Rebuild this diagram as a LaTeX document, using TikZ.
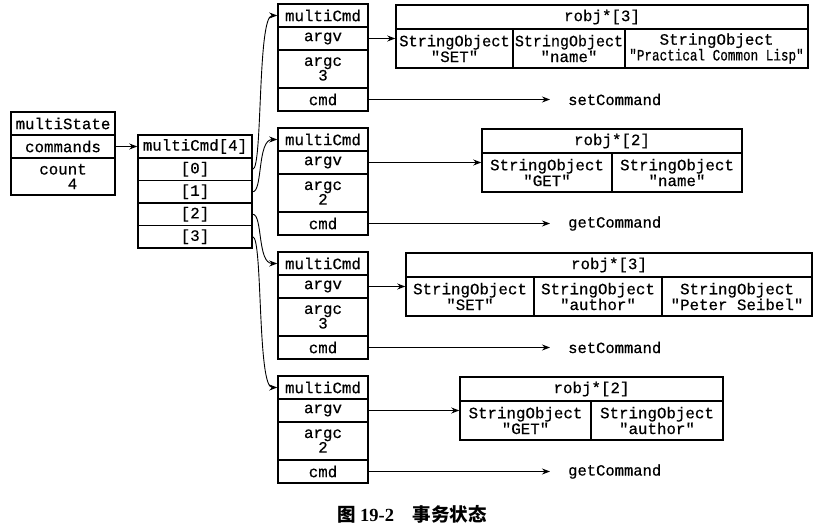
\documentclass[tikz,border=0pt]{standalone}
\usepackage{fontspec}
\newfontfamily\boxfont{Liberation Mono}[FakeBold=0.6]
\newfontfamily\cjk{Noto Sans CJK SC}
\newfontfamily\capnum{Liberation Serif}
\usepackage{graphicx}
\usepackage{tikz}
\usetikzlibrary{arrows.meta}

\tikzset{
  cell/.style={draw,line width=1.5pt,inner sep=0pt,align=center,
    font=\boxfont\fontsize{15.8}{14.6}\selectfont},
  fn/.style={inner sep=0pt,anchor=west,font=\boxfont\fontsize{15.5}{14.6}\selectfont},
  ptr/.style={-{Stealth[length=8pt,width=6pt]},line width=0.9pt},
}

\begin{document}
\begin{tikzpicture}[x=1pt,y=-1pt]
    \useasboundingbox (0,0) rectangle (825,527);
    % multiState
    \node[cell,minimum width=104pt,minimum height=23pt] (state) at (63,123.5) {multiState};
    \node[cell,minimum width=104pt,minimum height=23pt] (commands) at (63,146.5) {commands};
    \node[cell,minimum width=104pt,minimum height=37pt] (count) at (63,176.5) {count\\\ \ 4};
    % multiCmd[4]
    \node[cell,minimum width=114pt,minimum height=23pt] (cmds) at (195,146.5) {multiCmd[4]};
    \foreach \i in {0,...,3}
        \node[cell,minimum width=114pt,minimum height=22.5pt] (cmds\i) at (195,169.25+22.5*\i) {[\i]};
    \draw[ptr] (commands) -- (cmds);
    % one multiCmd per queued command
    \foreach \k/\n/\f in {0/3/set,1/2/get,2/3/set,3/2/get}{
        \pgfmathsetmacro\t{4+124*\k}
        \node[cell,minimum width=90pt,minimum height=23pt] (mc\k) at (323,\t+11.5) {multiCmd};
        \node[cell,minimum width=90pt,minimum height=23pt] (argv\k) at (323,\t+34.5) {argv};
        \node[cell,minimum width=90pt,minimum height=38pt] (argc\k) at (323,\t+65) {argc\\\n};
        \node[cell,minimum width=90pt,minimum height=23pt] (cmd\k) at (323,\t+95.5) {cmd};
        \node[fn] (fn\k) at (568,\t+95.5) {\f Command};
        \draw[ptr,shorten >=18pt] (cmd\k) -- (fn\k);
        \draw[ptr] (cmds\k.east) to[out=0,in=180,out distance=10pt,in distance=20pt] (mc\k.west);
    };
    % robj arrays
    \node[cell,minimum width=412pt,minimum height=24pt] (robj0) at (602,17) {robj*[3]};
    \node[cell,minimum width=117pt,minimum height=39pt] (so00) at (454.5,48.5) {\scalebox{0.97}[1]{StringObject}\\"SET"};
    \node[cell,minimum width=112pt,minimum height=39pt] (so01) at (569,48.5) {\scalebox{0.95}[1]{StringObject}\\"name"};
    \node[cell,minimum width=183pt,minimum height=39pt] (so02) at (716.5,48.5) {StringObject\\\scalebox{0.8}[1]{"Practical Common Lisp"}};
    \node[cell,minimum width=260pt,minimum height=24pt] (robj1) at (612,141) {robj*[2]};
    \node[cell,minimum width=130pt,minimum height=39pt] (so10) at (547,172.5) {StringObject\\"GET"};
    \node[cell,minimum width=130pt,minimum height=39pt] (so11) at (677,172.5) {StringObject\\"name"};
    \node[cell,minimum width=406pt,minimum height=24pt] (robj2) at (609,265) {robj*[3]};
    \node[cell,minimum width=128pt,minimum height=39pt] (so20) at (470,296.5) {StringObject\\"SET"};
    \node[cell,minimum width=128pt,minimum height=39pt] (so21) at (598,296.5) {StringObject\\"author"};
    \node[cell,minimum width=150pt,minimum height=39pt] (so22) at (737,296.5) {StringObject\\"Peter Seibel"};
    \node[cell,minimum width=263pt,minimum height=24pt] (robj3) at (591.5,389) {robj*[2]};
    \node[cell,minimum width=131pt,minimum height=39pt] (so30) at (525.5,420.5) {StringObject\\"GET"};
    \node[cell,minimum width=132pt,minimum height=39pt] (so31) at (657,420.5) {StringObject\\"author"};
    \foreach \k in {0,...,3}
        \draw[ptr] (argv\k.east) -- (argv\k.east -| so\k0.west);
    % caption
    \node[font=\fontsize{18.5}{18.5}\selectfont\bfseries] (caption) at (412,514) {\cjk 图 \capnum 19-2\quad\cjk 事务状态};
\end{tikzpicture}
\end{document}
